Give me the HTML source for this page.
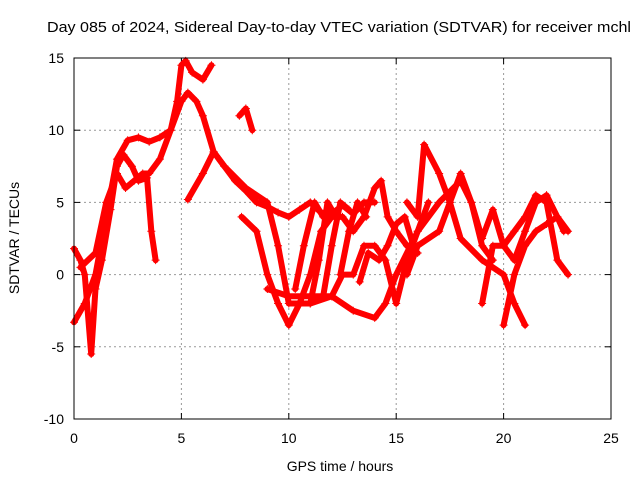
<!DOCTYPE html>
<html><head><meta charset="utf-8"><style>
body{margin:0;background:#fff;}
svg{display:block;font-family:"Liberation Sans",sans-serif;}
</style></head><body>
<svg id="chart" width="640" height="480">
<text x="47" y="32" font-size="15" textLength="584" lengthAdjust="spacingAndGlyphs">Day 085 of 2024, Sidereal Day-to-day VTEC variation (SDTVAR) for receiver mchl</text>
<text x="340" y="471" font-size="14" text-anchor="middle">GPS time / hours</text>
<text x="19" y="238" font-size="14" text-anchor="middle" transform="rotate(-90 19 238)">SDTVAR / TECUs</text>
<g id="grid"></g>
<g id="ticks"></g>
<g id="series"></g>
<rect x="74" y="58" width="537" height="361" fill="none" stroke="#000" stroke-width="1"/>
</svg>
<script>
const xTicks=[0,5,10,15,20,25];
const yTicks=[-10,-5,0,5,10,15];
const t1=[0,0.5,1,1.5,2,2.5,3,3.5,4,4.5,5,5.3,5.7,6,6.5,7,7.5,8,8.5,9,9.5,10,10.5,11,11.5,12,12.5,13,13.5,14];
const v1=[-3.3,-2,0,4,8,9.3,9.5,9.2,9.5,10,12,12.6,12,11,8.5,7.5,6.5,5.8,5,4.7,4.3,4,4.5,5,4.3,4.2,4.8,4.2,5,5];
const t2=[0,0.3,0.5,0.8,1,1.3,1.7,2,2.3,2.7,3,3.4,3.6,3.8];
const v2=[1.8,1,0,-5.5,-1,1,4.5,7.5,8.3,7.5,6.5,6.7,3,1];
const t3=[0.3,1,1.5,2,2.4,2.8,3.2,3.5,4,4.5,4.8,5,5.2,5.5,6,6.4];
const v3=[0.5,1.5,5,7,6,6.5,7,7,8,10,12,14.5,14.8,14,13.5,14.5];
const t4=[5.3,6,6.5,7,8,9,9.5,10,11,12,13,14,14.5,15,16,17,18,18.5,19,19.5];
const v4=[5.2,7,8.5,7.5,6,5,2,-2,-2,-1.5,-2.5,-3,-2,0,3,5,6.5,5,2,1];
const t5=[7.7,8,8.3];
const v5=[11,11.5,10];
const t6=[7.8,8.5,9,9.5,10,10.5,11,11.5,12,12.5,13,13.5,14,14.3,14.6,15,15.5,16];
const v6=[4,3,0,-2,-3.5,-2,0,3,4,4,3,4,6,6.5,4,3,2,1.5];
const t7=[9,10,11,12,12.5,13,13.5,14,14.5,15,15.5,16,16.5];
const v7=[-1,-1.5,-1.5,-1.5,0,0,2,2,1,-2,1,3,5];
const t8=[15.5,16,16.3,17,17.5,18,19,20,20.5,21];
const v8=[5,4,9,7,5,2.5,1,0,-2,-3.5];
const t9=[15.5,16,17,17.5,18,18.5,19,19.5,20,20.5,21,21.5,22,22.5,23];
const v9=[0,2,3,5,7,5,2.5,4.5,2,1,3,5,5.5,4,3];
const t10=[19,19.5,20,20.5,21,21.5,22,22.5,23];
const v10=[-2,2,2,3,4,5.5,5,1,0];
const t11=[20,20.5,21,21.5,22,22.5,22.8];
const v11=[-3.5,0,2,3,3.5,4,3];
const t12=[10.3,10.7,11.2,11.6];
const v12=[-1,2,5,4];
const t13=[11,11.4,11.8,12.2];
const v13=[-2,1,5,4];
const t14=[11.6,12,12.4,12.8];
const v14=[-1.5,2,5,4.5];
const t15=[12.4,12.8,13.2,13.6];
const v15=[0,3,5,4];
const t16=[13.3,13.7,14.2,14.6,15,15.4,15.8];
const v16=[-0.5,1.5,1,2,3.5,4,2];
const allT=[t1,t2,t3,t4,t5,t6,t7,t8,t9,t10,t11,t12,t13,t14,t15,t16];
const allV=[v1,v2,v3,v4,v5,v6,v7,v8,v9,v10,v11,v12,v13,v14,v15,v16];
const NS="http://www.w3.org/2000/svg";
const X0=74,X1=611,Y0=419,Y1=58;
function sx(t){return X0+(t-0)/(25-0)*(X1-X0);}
function sy(v){return Y0-(v+10)/25*(Y0-Y1);}
function mk(tag,attrs,parent){const e=document.createElementNS(NS,tag);for(const k in attrs)e.setAttribute(k,attrs[k]);parent.appendChild(e);return e;}
const grid=document.getElementById('grid'),ticks=document.getElementById('ticks'),ser=document.getElementById('series');
xTicks.forEach(t=>{const x=sx(t);
 if(t>0&&t<25){const g=mk('line',{x1:x,x2:x,y1:Y1,y2:Y0,stroke:'#999','stroke-dasharray':'2,3','stroke-width':1},grid);
 
 }
 mk('line',{x1:x,x2:x,y1:Y0,y2:Y0-6,stroke:'#000'},ticks);
 mk('line',{x1:x,x2:x,y1:Y1,y2:Y1+6,stroke:'#000'},ticks);
 const l=mk('text',{x:x,y:443,'font-size':14,'text-anchor':'middle'},ticks);l.textContent=t;
 
 });
yTicks.forEach(v=>{const y=sy(v);
 if(v>-10&&v<15){const g=mk('line',{x1:X0,x2:X1,y1:y,y2:y,stroke:'#999','stroke-dasharray':'2,3','stroke-width':1},grid);
 
 }
 mk('line',{x1:X0,x2:X0+6,y1:y,y2:y,stroke:'#000'},ticks);
 mk('line',{x1:X1,x2:X1-6,y1:y,y2:y,stroke:'#000'},ticks);
 const l=mk('text',{x:64,y:y+5,'font-size':14,'text-anchor':'end'},ticks);l.textContent=v;
 
 });
allT.forEach((ts,i)=>{const vs=allV[i];
 const pts=ts.map((t,j)=>sx(t)+','+sy(vs[j])).join(' ');
 const pl=mk('polyline',{points:pts,fill:'none',stroke:'#f00','stroke-width':6,'stroke-linejoin':'round','stroke-linecap':'round'},ser);
 
 
 ts.forEach((t,j)=>{const x=sx(t),y=sy(vs[j]);
  const p=mk('path',{d:`M${x-4},${y}h8M${x},${y-4}v8`,stroke:'#f00','stroke-width':1},ser);
  
  });
});
</script>
</body></html>
